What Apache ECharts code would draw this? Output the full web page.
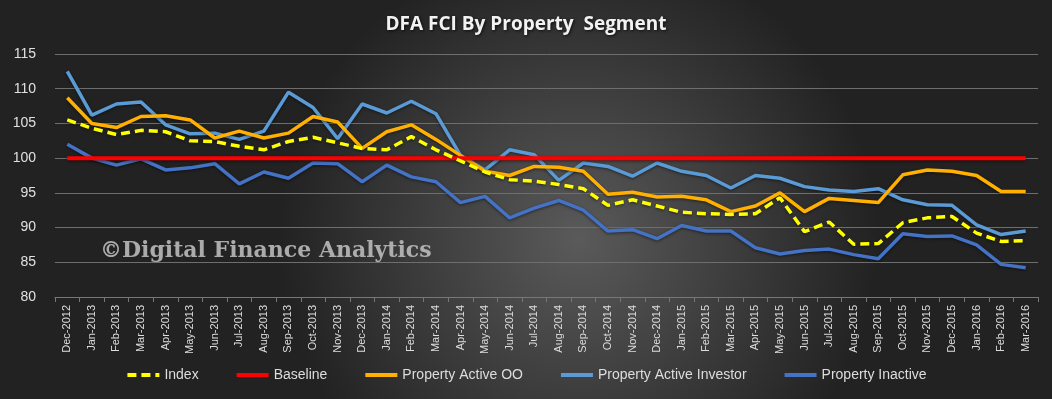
<!DOCTYPE html>
<html>
<head>
<meta charset="utf-8">
<script src="https://cdn.jsdelivr.net/npm/echarts@6/dist/echarts.min.js"></script>
<style>
  html, body { margin: 0; padding: 0; background: #2a2a2a; }
  #chart { width: 1052px; height: 399px; }
</style>
</head>
<body>
<div id="chart"></div>
<script>
// -----------------------------------------------------------------------------
// Data
// -----------------------------------------------------------------------------
const months = [
  "Dec-2012",
  "Jan-2013", "Feb-2013", "Mar-2013", "Apr-2013", "May-2013", "Jun-2013",
  "Jul-2013", "Aug-2013", "Sep-2013", "Oct-2013", "Nov-2013", "Dec-2013",
  "Jan-2014", "Feb-2014", "Mar-2014", "Apr-2014", "May-2014", "Jun-2014",
  "Jul-2014", "Aug-2014", "Sep-2014", "Oct-2014", "Nov-2014", "Dec-2014",
  "Jan-2015", "Feb-2015", "Mar-2015", "Apr-2015", "May-2015", "Jun-2015",
  "Jul-2015", "Aug-2015", "Sep-2015", "Oct-2015", "Nov-2015", "Dec-2015",
  "Jan-2016", "Feb-2016", "Mar-2016",
];

const indexValues = [
  105.5, 104.3, 103.4, 104.0, 103.8, 102.5, 102.4, 101.7, 101.2, 102.4,
  103.0, 102.2, 101.4, 101.2, 103.1, 101.2, 99.6, 98.0, 96.9, 96.7,
  96.2, 95.6, 93.2, 94.0, 93.1, 92.2, 92.0, 91.9, 92.0, 94.3,
  89.4, 90.8, 87.6, 87.7, 90.7, 91.4, 91.6, 89.2, 88.0, 88.1,
];

const baselineValues = months.map(() => 100);

const activeOO = [
  108.7, 105.0, 104.4, 106.0, 106.1, 105.5, 102.9, 103.9, 102.9, 103.6,
  106.0, 105.2, 101.4, 103.8, 104.8, 102.7, 100.4, 98.1, 97.5, 98.8,
  98.7, 98.1, 94.8, 95.1, 94.4, 94.5, 94.0, 92.3, 93.1, 95.0,
  92.3, 94.2, 93.9, 93.6, 97.6, 98.3, 98.1, 97.5, 95.2, 95.2,
];

const activeInvestor = [
  112.5, 106.2, 107.8, 108.1, 104.8, 103.5, 103.6, 102.7, 103.9, 109.5,
  107.3, 102.8, 107.8, 106.5, 108.2, 106.4, 100.4, 98.3, 101.2, 100.5,
  96.8, 99.3, 98.8, 97.4, 99.3, 98.1, 97.5, 95.7, 97.5, 97.1,
  95.9, 95.4, 95.2, 95.6, 94.0, 93.3, 93.2, 90.4, 89.0, 89.5,
];

const inactive = [
  102.0, 100.0, 99.0, 99.9, 98.3, 98.6, 99.2, 96.3, 98.0, 97.1,
  99.3, 99.2, 96.6, 99.0, 97.3, 96.6, 93.6, 94.5, 91.4, 92.8,
  93.9, 92.5, 89.5, 89.7, 88.4, 90.3, 89.5, 89.5, 87.1, 86.2,
  86.7, 86.9, 86.1, 85.5, 89.1, 88.7, 88.8, 87.5, 84.7, 84.2,
];

// -----------------------------------------------------------------------------
// Chart
// -----------------------------------------------------------------------------
const chart = echarts.init(document.getElementById("chart"), null, { renderer: "canvas" });

const lineSeries = (name, data, color, width, dashed) => ({
  name,
  type: "line",
  data,
  symbol: "none",
  smooth: false,
  lineStyle: {
    color,
    width,
    type: dashed ? [9, 5] : "solid",
    cap: "butt",
    shadowColor: "rgba(0,0,0,0.5)",
    shadowBlur: 3,
    shadowOffsetY: 1,
  },
  itemStyle: { color },
});

chart.setOption({
  backgroundColor: {
    type: "radial",
    x: 0.55,
    y: 0.6,
    r: 0.75,
    colorStops: [
      { offset: 0, color: "#5a5a5a" },
      { offset: 1, color: "#222222" },
    ],
  },
  title: {
    text: "DFA FCI By Property  Segment",
    left: "center",
    top: 10,
    textStyle: {
      color: "#f2f2f2",
      fontFamily: "Open Sans",
      fontWeight: "bold",
      fontSize: 19,
      textShadowColor: "rgba(0,0,0,0.7)",
      textShadowBlur: 3,
      textShadowOffsetX: 1,
      textShadowOffsetY: 1,
    },
  },
  legend: {
    bottom: 12,
    left: "center",
    itemWidth: 32,
    itemHeight: 12,
    itemGap: 36,
    itemStyle: { opacity: 0 },
    lineStyle: { width: 4, shadowBlur: 0, shadowOffsetY: 0 },
    textStyle: { color: "#dddddd", fontSize: 14, fontFamily: "Liberation Sans" },
    data: ["Index", "Baseline", "Property Active OO", "Property Active Investor", "Property Inactive"],
  },
  graphic: [
    {
      type: "text",
      left: 100,
      top: 240,
      z: 0,
      style: {
        text: "©Digital Finance Analytics",
        fill: "rgba(195,195,195,0.85)",
        font: "bold 22px 'DejaVu Serif'",
      },
    },
  ],
  grid: { left: 55, right: 14, top: 54, bottom: 102 },
  xAxis: {
    type: "category",
    data: months,
    boundaryGap: true,
    axisLine: { lineStyle: { color: "#777777" } },
    axisTick: { show: true, alignWithLabel: false, lineStyle: { color: "#777777" } },
    axisLabel: {
      color: "#dddddd",
      rotate: 90,
      interval: 0,
      fontSize: 11,
      fontFamily: "Liberation Sans",
      margin: 8,
    },
  },
  yAxis: {
    type: "value",
    min: 80,
    max: 115,
    interval: 5,
    axisLine: { show: false },
    axisTick: { show: false },
    axisLabel: { color: "#e0e0e0", fontSize: 14, fontFamily: "Liberation Sans", margin: 19 },
    splitLine: { lineStyle: { color: "#6e6e6e", width: 1 } },
  },
  series: [
    lineSeries("Property Inactive", inactive, "#4472c4", 3.5, false),
    lineSeries("Property Active Investor", activeInvestor, "#5b9bd5", 3.5, false),
    lineSeries("Property Active OO", activeOO, "#ffb000", 3.5, false),
    lineSeries("Baseline", baselineValues, "#ff0000", 4, false),
    lineSeries("Index", indexValues, "#ffff00", 3.5, true),
  ],
});
</script>
</body>
</html>
